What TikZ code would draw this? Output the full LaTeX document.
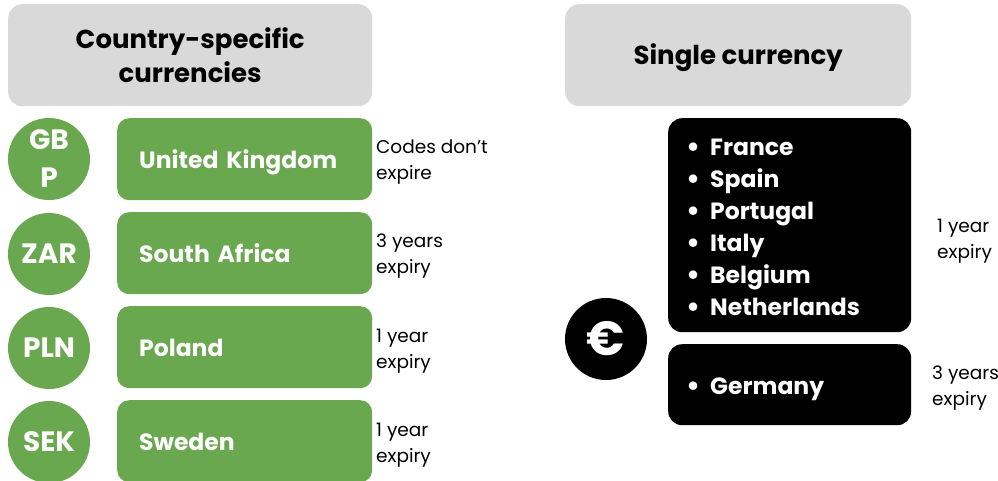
\documentclass[tikz,border=0pt]{standalone}
\usepackage{fontspec}
\setmainfont{Poppins}
\definecolor{headgray}{HTML}{D9D9D9}
\definecolor{leafgreen}{HTML}{6AA84F}
% round list marker followed by a fixed gap
\newcommand\listdot{\makebox[24pt][l]{\raisebox{-1pt}{\fontsize{28}{28}\selectfont•}}}
\begin{document}
\begin{tikzpicture}[x=1pt,y=-1pt,
  header/.style={fill=headgray, rounded corners=14pt, anchor=north west,
    minimum width=#1, minimum height=102pt, align=center, inner sep=0pt,
    font=\fontsize{26}{34}\selectfont\bfseries},
  countrybox/.style={fill=leafgreen, rounded corners=12pt, anchor=north west,
    minimum width=255pt, minimum height=82pt, text width=211pt, align=left,
    inner xsep=22pt, inner ysep=0pt, text=white, text height=19pt, text depth=0pt,
    font=\fontsize{23.5}{26}\selectfont\bfseries},
  codedisc/.style={circle, fill=leafgreen, minimum size=82pt, inner sep=0pt,
    align=center, text=white, font=\fontsize{28}{36}\selectfont\bfseries},
  eurobox/.style={fill=black, rounded corners=14pt, anchor=north west,
    minimum width=243pt, inner sep=0pt},
  listtext/.style={anchor=west, align=left, inner sep=0pt, text=white,
    font=\fontsize{23.5}{32}\selectfont\bfseries},
  note/.style={anchor=west, align=left, inner sep=0pt,
    font=\fontsize{18.5}{26}\selectfont}]
\useasboundingbox (0,0) rectangle (998,480);

% column headers
\node[header=364pt] (hleft) at (8,4) {Country-specific\\currencies};
\node[header=346pt, text height=19pt, text depth=0pt] (hright) at (565,4) {Single currency};

% country-specific currencies
\node[codedisc, font=\fontsize{28}{38}\selectfont\bfseries] (gbp) at (49,159) {GB\\P};
\node[codedisc] (zar) at (49,254) {ZAR};
\node[codedisc] (pln) at (49,348) {PLN};
\node[codedisc] (sek) at (49,442) {SEK};

\node[countrybox] (uk) at (117,118) {United Kingdom};
\node[countrybox] (sa) at (117,212) {South Africa};
\node[countrybox] (pl) at (117,306) {Poland};
\node[countrybox] (se) at (117,400) {Sweden};

\node[note] (nuk) at (376,162) {Codes don’t\\expire};
\node[note] (nsa) at (376,256) {3 years\\expiry};
\node[note] (npl) at (376,351) {1 year\\expiry};
\node[note] (nse) at (376,445) {1 year\\expiry};

% single currency
\node[circle, fill=black, minimum size=82pt, inner sep=0pt, text=white,
  font=\fontsize{48}{48}\selectfont\bfseries] (euro) at (606,339) {€};

\node[eurobox, minimum height=214pt] (zone1) at (668,118) {};
\node[listtext] (list1) at ([xshift=18pt, yshift=-3pt]zone1.west)
  {\listdot France\\\listdot Spain\\\listdot Portugal\\\listdot Italy\\\listdot Belgium\\\listdot Netherlands};
\node[eurobox, minimum height=81pt] (zone2) at (668,344) {};
\node[listtext, text height=17pt, text depth=0pt] (list2) at ([xshift=18pt, yshift=-1pt]zone2.west) {\listdot Germany};

\node[note] (nz1) at (937,241) {1 year\\expiry};
\node[note] (nz2) at (932,388) {3 years\\expiry};
\end{tikzpicture}
\end{document}
